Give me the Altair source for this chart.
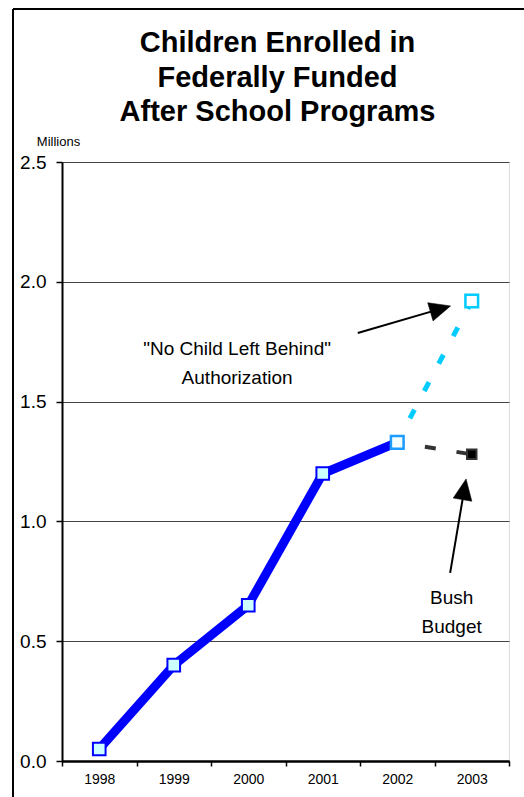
import altair as alt
import pandas as pd

# Enrolment, millions of children
years = [1998, 1999, 2000, 2001, 2002]
enrolled = [0.05, 0.40, 0.65, 1.20, 1.33]

# Two 2003 outlooks, both starting at the 2002 value
nclb_years = [2002, 2003]
nclb_values = [1.33, 1.92]
bush_years = [2002, 2003]
bush_values = [1.33, 1.28]

x_labels = [1998, 1999, 2000, 2001, 2002, 2003]
x_tick_marks = [1997.5, 1998.5, 1999.5, 2000.5, 2001.5, 2002.5, 2003.5]
y_ticks = [0.0, 0.5, 1.0, 1.5, 2.0, 2.5]

# Callout labels and arrows (data units)
note_x = [1999.85, 1999.85, 2002.73, 2002.73]
note_y = [1.72, 1.60, 0.68, 0.56]
note_text = ['"No Child Left Behind"', "Authorization", "Bush", "Budget"]

arrow_x = [2001.47, 2002.71]
arrow_y = [1.786, 0.785]
arrow_x2 = [2002.58, 2002.90]
arrow_y2 = [1.887, 1.134]
arrow_angle = [73.7, 9.7]

FONT = "Liberation Sans"

main = pd.DataFrame({"year": years, "value": enrolled})
nclb = pd.DataFrame({"year": nclb_years, "value": nclb_values})
bush = pd.DataFrame({"year": bush_years, "value": bush_values})
notes = pd.DataFrame({"x": note_x, "y": note_y, "t": note_text})
arrows = pd.DataFrame({"x": arrow_x, "y": arrow_y, "x2": arrow_x2,
                       "y2": arrow_y2, "a": arrow_angle})

xscale = alt.Scale(domain=[1997.5, 2003.5], nice=False, zero=False)
yscale = alt.Scale(domain=[0, 2.5], nice=False, zero=True)

# Year labels centred under each point (no ticks)
x_label_axis = alt.Axis(
    values=x_labels, format="d", orient="bottom",
    labelFontSize=14, labelFont=FONT, labelColor="black",
    labelPadding=11, labelFlush=False, labelOverlap=False,
    ticks=False, domainColor="black", domainWidth=2, grid=False, title=None,
)
# Tick marks between the years
x_tick_axis = alt.Axis(
    values=x_tick_marks, orient="bottom", labels=False,
    tickSize=5, tickColor="black", tickWidth=1.5,
    domainColor="black", domainWidth=2, grid=False, title=None,
)
y_axis = alt.Axis(
    values=y_ticks, format=".1f",
    labelFontSize=19, labelFont=FONT, labelColor="black", labelPadding=10,
    tickSize=6, tickColor="black", tickWidth=1.5,
    domainColor="black", domainWidth=2,
    grid=True, gridColor="#444444", gridWidth=1,
    title="Millions", titleAngle=0, titleFont=FONT, titleFontSize=13,
    titleFontWeight="normal", titleColor="black",
    titleX=-4, titleY=-17, titleAlign="center", titleBaseline="alphabetic",
)

X = alt.X("year:Q", scale=xscale, axis=x_label_axis)
Y = alt.Y("value:Q", scale=yscale, axis=y_axis)
Xn = alt.X("year:Q", axis=None)

blue_line = alt.Chart(main).mark_line(color="#0000FF", strokeWidth=9).encode(x=X, y=Y)

nclb_line = alt.Chart(nclb).mark_line(
    color="#00CCFF", strokeWidth=5, strokeDash=[10, 21], strokeDashOffset=4
).encode(x=Xn, y="value:Q")
bush_line = alt.Chart(bush).mark_line(
    color="#333333", strokeWidth=4, strokeDash=[11, 21], strokeDashOffset=4
).encode(x=Xn, y="value:Q")

blue_pts = alt.Chart(main[main.year < 2002]).mark_point(
    shape="square", size=160, filled=True, fill="#CCFFFF",
    stroke="#0000FF", strokeWidth=2, opacity=1
).encode(x=Xn, y="value:Q")

pt2002 = alt.Chart(main[main.year == 2002]).mark_point(
    shape="square", size=160, filled=True, fill="#F4FFFF",
    stroke="#1E9BFF", strokeWidth=2.5, opacity=1
).encode(x=Xn, y="value:Q")

nclb_pt = alt.Chart(nclb[nclb.year == 2003]).mark_point(
    shape="square", size=160, filled=True, fill="white",
    stroke="#00CCFF", strokeWidth=2.5, opacity=1
).encode(x=Xn, y="value:Q")

bush_pt = alt.Chart(bush[bush.year == 2003]).mark_point(
    shape="square", size=90, filled=True, fill="black",
    stroke="#333333", strokeWidth=2, opacity=1
).encode(x=Xn, y="value:Q")

note_marks = alt.Chart(notes).mark_text(
    font=FONT, fontSize=19, color="black", align="center", baseline="middle"
).encode(x=alt.X("x:Q", axis=x_tick_axis), y="y:Q", text="t:N")

arrow_shafts = alt.Chart(arrows).mark_rule(color="black", strokeWidth=2).encode(
    x=alt.X("x:Q", axis=None), y="y:Q", x2="x2:Q", y2="y2:Q"
)
arrow_heads = alt.Chart(arrows).mark_point(
    shape="M0,-1L0.9,1L-0.9,1Z", size=441, filled=True, fill="black",
    stroke="black", strokeWidth=0.5, opacity=1
).encode(
    x=alt.X("x2:Q", axis=None), y="y2:Q",
    angle=alt.Angle("a:Q", scale=None),
)

# Outer border around the whole figure
frame_left = alt.Chart(notes).mark_rule(color="black", strokeWidth=1.5).encode(
    x=alt.value(-49), y=alt.value(-153), y2=alt.value(660)
)
frame_top = alt.Chart(notes).mark_rule(color="black", strokeWidth=1.5).encode(
    x=alt.value(-49), x2=alt.value(480), y=alt.value(-153)
)

chart = alt.layer(
    blue_line, note_marks, nclb_line, bush_line, blue_pts, pt2002, nclb_pt,
    bush_pt, arrow_shafts, arrow_heads, frame_left, frame_top,
).resolve_axis(
    x="independent"
).properties(
    width=447, height=599,
    title=alt.TitleParams(
        text=["Children Enrolled in", "Federally Funded", "After School Programs"],
        font=FONT, fontSize=29, fontWeight="bold", color="black",
        lineHeight=34.5, anchor="middle", frame="group", baseline="alphabetic",
        dx=-8, dy=142, offset=0,
    ),
    autosize=alt.AutoSizeParams(type="none"),
    padding={"left": 62, "top": 162, "right": 15, "bottom": 36},
).configure_view(
    stroke="#888888", strokeWidth=2
).configure(background="white")

chart.save("out.html", embed_options={"renderer": "svg", "actions": False})
